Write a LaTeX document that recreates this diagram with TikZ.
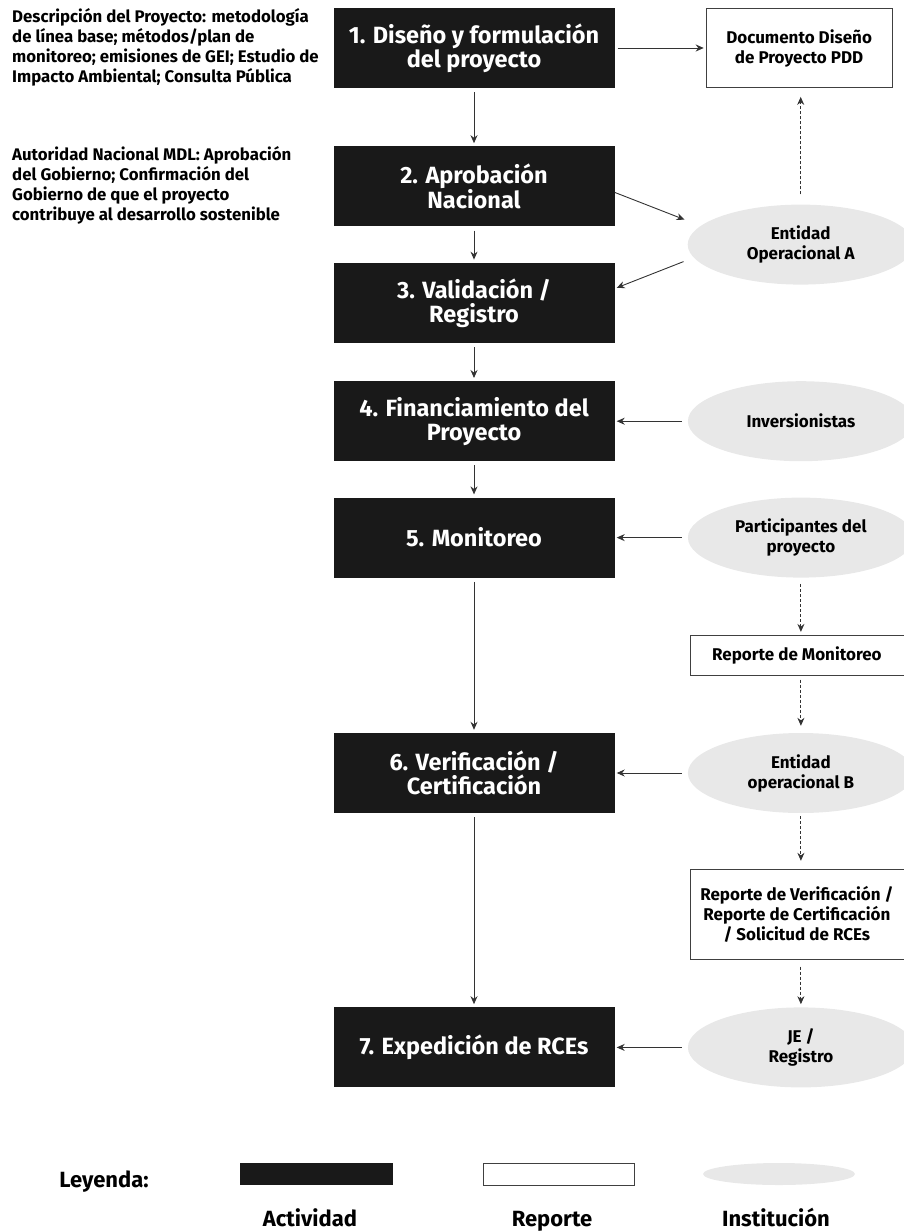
\documentclass[tikz,border=0pt]{standalone}
\usepackage{fontspec}
\setmainfont{Fira Sans}
\usetikzlibrary{arrows.meta, positioning, shapes, calc}

\begin{document}
\begin{tikzpicture}[
    x=1pt, y=1pt,
    node distance=35pt,
    actividad/.style={
        rectangle,
        fill=black!90,
        text=white,
        minimum width=281pt,
        minimum height=80pt,
        inner sep=0pt,
        align=center,
        font=\fontsize{23.5}{24}\selectfont\bfseries
    },
    reporte/.style={
        rectangle,
        draw=black!75,
        line width=0.8pt,
        fill=white,
        inner sep=0pt,
        align=center,
        font=\fontsize{17}{20}\selectfont\bfseries
    },
    institucion/.style={
        ellipse,
        fill=black!9,
        minimum width=226pt,
        minimum height=80pt,
        inner sep=0pt,
        align=center,
        font=\fontsize{17}{20}\selectfont\bfseries
    },
    nota/.style={
        align=left,
        inner sep=0pt,
        font=\fontsize{16.8}{20}\selectfont\bfseries
    },
    leyenda/.style={
        anchor=base,
        font=\fontsize{22}{24}\selectfont\bfseries
    },
    flecha/.style={
        ->,
        >={Stealth[length=8pt,width=7pt]},
        line width=0.9pt,
        color=black!80
    },
    punteada/.style={flecha, dash pattern=on 3pt off 2pt}
]
\clip (0,0) rectangle (904,-1231);

% Actividades
\node[actividad] (b1) at (474,-48) {1. Diseño y formulación\\del proyecto};
\node[actividad, below=58pt of b1] (b2) {2. Aprobación\\Nacional};
\node[actividad, below=36pt of b2] (b3) {3. Validación /\\Registro};
\node[actividad, below=38pt of b3] (b4) {4. Financiamiento del\\Proyecto};
\node[actividad, below=36pt of b4] (b5) {5. Monitoreo};
\node[actividad, below=155pt of b5] (b6) {6. Verificación /\\Certificación};
\node[actividad, below=194pt of b6] (b7) {7. Expedición de RCEs};

% Notas de la izquierda
\node[nota, anchor=north west] (desc) at (12,-8) {Descripción del Proyecto: metodología\\de línea base; métodos/plan de\\monitoreo; emisiones de GEI; Estudio de\\Impacto Ambiental; Consulta Pública};
\node[nota, anchor=north west] (aut) at (12,-146) {Autoridad Nacional MDL: Aprobación\\del Gobierno; Confirmación del\\Gobierno de que el proyecto\\contribuye al desarrollo sostenible};

% Instituciones y reportes
\node[reporte, right=91pt of b1, minimum width=186pt, minimum height=79pt] (pdd) {Documento Diseño\\de Proyecto PDD};
\node[institucion] (ea) at ($(b2.east)!0.5!(b3.east)+(186pt,0)$) {Entidad\\Operacional A};
\node[institucion, right=73pt of b4] (inv) {Inversionistas};
\node[institucion, right=73pt of b5] (pp) {Participantes del\\proyecto};
\node[institucion, right=73pt of b6] (eb) {Entidad\\operacional B};
\node[institucion, right=73pt of b7] (je) {JE /\\Registro};
\node[reporte, minimum width=214pt, minimum height=40pt] (rm) at ($(pp.south)!0.5!(eb.north)+(-4pt,0)$) {Reporte de Monitoreo};
\node[reporte, minimum width=214pt, minimum height=90pt] (rv) at ($(eb.south)!0.5!(je.north)+(-4pt,-4pt)$) {Reporte de Verificación /\\Reporte de Certificación\\/ Solicitud de RCEs};

% Flechas
\foreach \a/\b in {b1/b2, b2/b3, b3/b4, b4/b5, b5/b6, b6/b7}
    \draw[flecha, shorten <=4pt, shorten >=3pt] (\a) -- (\b);
\draw[flecha, shorten <=3pt, shorten >=2pt] (b1) -- (pdd);
\draw[flecha] ([yshift=-6pt]b2.east) -- ([yshift=25pt, xshift=-3pt]ea.west);
\draw[flecha] ([yshift=-17pt, xshift=-4pt]ea.west) -- ([yshift=15pt, xshift=2pt]b3.east);
\foreach \a/\b in {inv/b4, pp/b5, eb/b6, je/b7}
    \draw[flecha, shorten <=6pt, shorten >=2pt] (\a) -- (\b);

% Flechas punteadas
\draw[punteada, shorten >=9pt] ([yshift=10pt]ea.north) -- (ea.north |- pdd.south);
\draw[punteada, shorten <=6pt, shorten >=3pt] (pp.south) -- (pp.south |- rm.north);
\draw[punteada, shorten <=4pt, shorten >=7pt] (rm.south -| eb.south) -- (eb.north);
\draw[punteada, shorten <=3pt, shorten >=8pt] (eb.south) -- (eb.south |- rv.north);
\draw[punteada, shorten <=7pt, shorten >=3pt] (rv.south -| je.north) -- (je.north);

% Leyenda
\node[leyenda] (ley) at (104,-1187) {Leyenda:};
\node[actividad, minimum width=153pt, minimum height=22pt] (lact) at (316.5,-1174) {};
\node[reporte, minimum width=151pt, minimum height=22pt] (lrep) at (558.5,-1174) {};
\node[institucion, minimum width=152pt, minimum height=22pt] (lins) at (779,-1174) {};
\node[leyenda] (tact) at (310,-1226) {Actividad};
\node[leyenda] (trep) at (552,-1226) {Reporte};
\node[leyenda] (tins) at (776,-1226) {Institución};

\end{tikzpicture}
\end{document}
